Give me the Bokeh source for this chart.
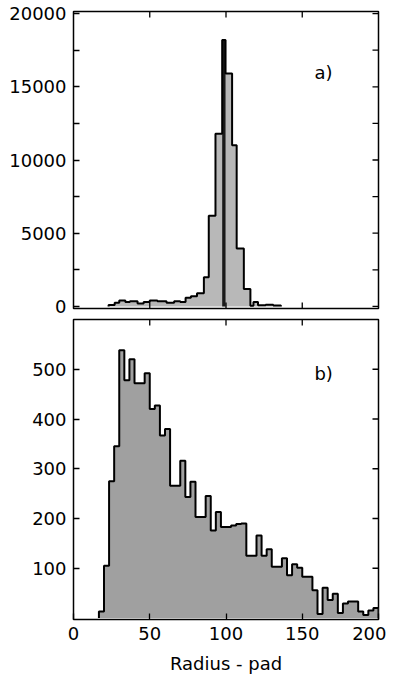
import math
from bokeh.plotting import figure
from bokeh.models import LinearAxis, FixedTicker, Label
from bokeh.layouts import column
from bokeh.embed import file_html
from bokeh.resources import INLINE

# ---------------- data ----------------
# panel a) : variable-width bins (edges) and counts
a_edges = [23, 27, 30, 34, 37, 42, 46, 50, 55, 61, 66, 70, 73.5, 77, 81,
           85.5, 88.7, 93.1, 97.5, 99.7, 104, 107, 111.7, 116, 118, 121, 126, 131, 136]
a_counts = [100, 250, 400, 300, 350, 200, 300, 400, 350, 250, 350, 300, 600, 700, 900,
            2000, 6200, 11800, 18200, 15900, 11000, 3950, 1200, 50, 300, 80, 120, 60]
a_peak_index = 18  # narrow dark spike

# panel b) : 60 bins of width 10/3 from 0 to 200
b_nbins = 60
b_counts = [0, 0, 0, 0, 0, 13, 105, 275, 345, 538,
            478, 520, 472, 472, 492, 420, 427, 367, 380, 266,
            266, 316, 243, 274, 203, 203, 245, 176, 213, 183,
            183, 186, 189, 190, 125, 125, 166, 125, 138, 103,
            103, 120, 86, 108, 101, 83, 83, 56, 8, 61,
            36, 49, 10, 29, 33, 33, 13, 6, 15, 20]

a_yticks = [0, 2500, 5000, 7500, 10000, 12500, 15000, 17500, 20000]
b_yticks = [100, 200, 300, 400, 500]
xticks = [0, 50, 100, 150, 200]
inner_xticks = [50, 100, 150]

A_YR = (-140, 20140)
B_YR = (-3, 600)
XR = (0, 200)

FONT = "DejaVu Sans"
FS = "18px"


def outline(edges, counts):
    xs, ys = [edges[0]], [0]
    for i, c in enumerate(counts):
        xs += [edges[i], edges[i + 1]]
        ys += [c, c]
    xs.append(edges[-1]); ys.append(0)
    return xs, ys


def label_axis(p, loc, ticks, overrides=None):
    ax = LinearAxis(ticker=FixedTicker(ticks=ticks))
    ax.major_tick_in = 6
    ax.major_tick_out = 0
    ax.minor_tick_in = 0
    ax.minor_tick_out = 0
    ax.axis_line_color = None
    ax.major_tick_line_color = "black"
    ax.major_tick_line_width = 1.3
    ax.major_label_text_font = FONT
    ax.major_label_text_font_size = FS
    ax.major_label_text_color = "black"
    ax.major_label_standoff = 7
    if overrides:
        ax.major_label_overrides = overrides
    p.add_layout(ax, loc)
    return ax


def edge_ticks(p, xs, ys, vertical):
    # inward tick marks on the frame edges (half of the dash is clipped away)
    p.scatter(xs, ys, marker="dash", size=12, angle=(math.pi / 2 if vertical else 0),
              line_color="black", line_width=1.3, fill_color=None)


def base(height, yr, bt, bb):
    p = figure(width=386, height=height, x_range=XR, y_range=yr,
               output_backend="svg", toolbar_location=None,
               x_axis_location=None, y_axis_location=None,
               min_border_left=73, min_border_right=8,
               min_border_top=bt, min_border_bottom=bb)
    p.outline_line_color = "black"
    p.outline_line_width = 1.5
    p.grid.grid_line_color = None
    p.background_fill_color = "white"
    p.border_fill_color = "white"
    return p


# ---------------- panel a ----------------
p1 = base(318, A_YR, 11, 10)
xa, ya = outline(a_edges, a_counts)
p1.patch(xa, ya, fill_color="#b8b8b8", line_color=None)
pk = a_peak_index
p1.quad(left=[a_edges[pk]], right=[a_edges[pk + 1]], bottom=[0], top=[a_counts[pk]],
        fill_color="#1a1a1a", line_color=None)
p1.line(xa, ya, line_color="black", line_width=2)
label_axis(p1, "left", a_yticks,
           overrides={2500: "", 7500: "", 12500: "", 17500: ""})
edge_ticks(p1, [XR[1]] * len(a_yticks), a_yticks, False)
edge_ticks(p1, inner_xticks, [A_YR[1]] * 3, True)
edge_ticks(p1, inner_xticks, [A_YR[0]] * 3, True)
p1.add_layout(Label(x=164, y=16000, text="a)", text_font=FONT, text_font_size=FS,
                    text_align="center", text_baseline="middle", text_color="black"))

# ---------------- panel b ----------------
w = (XR[1] - XR[0]) / b_nbins
b_edges = [XR[0] + i * w for i in range(b_nbins + 1)]
p2 = base(358, B_YR, 1, 56)
first = next(i for i, c in enumerate(b_counts) if c > 0)
xb, yb = outline(b_edges[first:], b_counts[first:])
p2.patch(xb, yb, fill_color="#a0a0a0", line_color=None)
p2.line(xb, yb, line_color="black", line_width=2)
label_axis(p2, "left", b_yticks)
edge_ticks(p2, [XR[1]] * len(b_yticks), b_yticks, False)
edge_ticks(p2, inner_xticks, [B_YR[1]] * 3, True)
bx = label_axis(p2, "below", xticks)
bx.axis_label = "Radius - pad"
bx.axis_label_text_font = FONT
bx.axis_label_text_font_size = FS
bx.axis_label_text_font_style = "normal"
bx.axis_label_standoff = 10
bx.axis_label_text_color = "black"
p2.add_layout(Label(x=164, y=492, text="b)", text_font=FONT, text_font_size=FS,
                    text_align="center", text_baseline="middle", text_color="black"))

layout = column(p1, p2, spacing=0)
open("out.html", "w").write(file_html(layout, INLINE))
